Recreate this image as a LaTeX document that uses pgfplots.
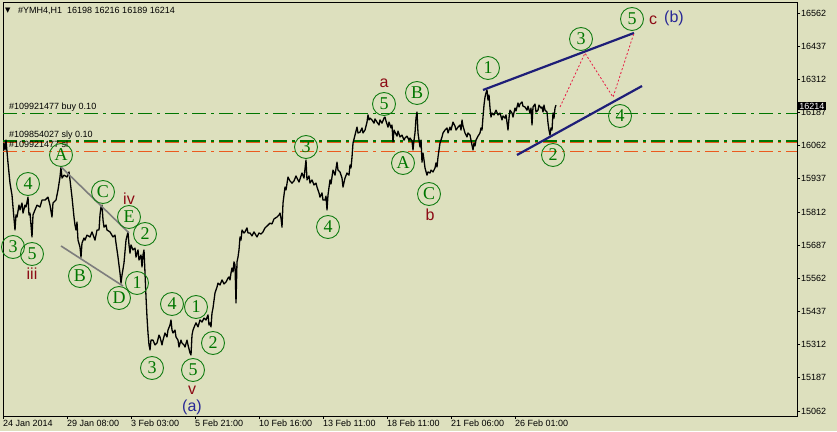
\documentclass[border=0pt]{standalone}
\usepackage{pgfplots}
\pgfplotsset{compat=1.18}
\usepackage{fontspec}
\setmainfont{Liberation Sans}
\newfontfamily\serifnum{Liberation Serif}
\newfontfamily\dejavu{DejaVu Sans}
\definecolor{bg}{RGB}{221,224,190}
\definecolor{wgreen}{RGB}{0,118,0}
\definecolor{ring}{RGB}{20,125,20}
\definecolor{wred}{RGB}{140,10,20}
\definecolor{wnavy}{RGB}{40,40,150}
\definecolor{tline}{RGB}{30,30,120}
\definecolor{orng}{RGB}{235,90,30}
\definecolor{crim}{RGB}{230,30,70}
\definecolor{gline}{RGB}{125,125,125}
\tikzset{
  circ/.style={circle, draw=ring, line width=0.9pt, minimum size=23pt, inner sep=0pt, text=wgreen, font=\serifnum\fontsize{18}{18}\selectfont},
  redl/.style={inner sep=0pt, text=wred, font=\fontsize{16}{16}\selectfont},
  navl/.style={inner sep=0pt, text=wnavy, font=\fontsize{16}{16}\selectfont},
}
\newcommand\cl[3]{\node[circ] at ({(#1-3)*1pt},{(416-#2)*1pt}) {#3};}
\newcommand\rl[3]{\node[redl] at ({(#1-3)*1pt},{(416-#2)*1pt}) {#3};}
\newcommand\nl[3]{\node[navl] at ({(#1-3)*1pt},{(416-#2)*1pt}) {#3};}
\begin{document}
\begin{tikzpicture}
\useasboundingbox[fill=bg] (-3pt,-15pt) rectangle (834pt,416pt);
\begin{axis}[
  at={(0pt,0pt)}, anchor=south west, scale only axis,
  width=794pt, height=413pt,
  xmin=3, xmax=797, ymin=15043, ymax=16600,
  axis line style={line width=1pt, black},
  xtick={3,67,131,195,259,323,387,451,515},
  xticklabels={24 Jan 2014, 29 Jan 08:00, 3 Feb 03:00, 5 Feb 21:00, 10 Feb 16:00, 13 Feb 11:00, 18 Feb 11:00, 21 Feb 06:00, 26 Feb 01:00},
  ytick={15062,15187,15312,15437,15562,15687,15812,15937,16062,16187,16312,16437,16562},
  yticklabels={15062,15187,15312,15437,15562,15687,15812,15937,16062,16187,16312,16437,16562},
  xtick pos=left, ytick pos=right, yticklabel pos=right,
  tick align=outside, major tick length=3pt,
  tick style={black, line width=0.8pt},
  xticklabel style={anchor=north west, xshift=-1pt, inner sep=1pt},
  yticklabel style={anchor=west, inner sep=1pt},
  tick label style={font=\fontsize{9}{9}\selectfont},
]
\addplot[wgreen, line width=0.8pt, dash pattern=on 14pt off 5pt on 3pt off 5pt] coordinates {(3,16184) (797,16184)};
\addplot[orng, line width=0.8pt, dash pattern=on 14pt off 5pt on 3pt off 5pt] coordinates {(3,16039) (797,16039)};
\addplot[orng, line width=0.8pt, dash pattern=on 14pt off 5pt on 3pt off 5pt] coordinates {(3,16076) (797,16076)};
\addplot[wgreen, line width=1.8pt, dash pattern=on 14pt off 5pt on 3pt off 5pt] coordinates {(3,16081) (797,16081)};
\addplot[black, line width=1.3pt, line join=round] coordinates {
(3,16065) (4,16072) (5,16046) (6,16083) (8,15997) (10,15921) (12,15876) (13,15831) (15,15744) (16,15801)
(17,15793) (19,15838) (20,15820) (22,15846) (23,15808) (25,15838) (26,15831) (28,15868) (29,15801) (30,15808)
(31,15763) (32,15718) (33,15801) (35,15820) (37,15838) (40,15831) (42,15857) (45,15857) (48,15868) (50,15838)
(52,15793) (53,15846) (56,15857) (58,15895) (60,15944) (61,15982) (62,15940) (64,15951) (67,15944) (69,15963)
(70,15933) (72,15868) (74,15793) (75,15763) (76,15744) (77,15774) (78,15706) (80,15680) (81,15642) (82,15695)
(84,15714) (85,15706) (87,15725) (90,15718) (92,15737) (95,15706) (97,15744) (99,15744) (100,15801) (101,15831)
(102,15838) (103,15782) (104,15755) (106,15763) (107,15744) (110,15737) (113,15718) (115,15725) (116,15695) (118,15642)
(119,15612) (120,15582) (121,15544) (122,15574) (124,15620) (126,15706) (128,15737) (129,15688) (130,15657) (131,15688)
(133,15669) (135,15676) (136,15642) (138,15669) (139,15631) (141,15650) (142,15605) (143,15650) (144,15669) (145,15582)
(146,15492) (147,15416) (148,15356) (149,15311) (150,15292) (151,15329) (153,15329) (155,15311) (157,15318) (159,15348)
(160,15341) (162,15311) (163,15329) (165,15356) (167,15341) (168,15367) (170,15386) (171,15405) (172,15367) (173,15356)
(175,15367) (176,15341) (178,15329) (179,15303) (181,15329) (182,15318) (184,15311) (185,15303) (187,15329) (188,15311)
(190,15281) (191,15273) (192,15348) (193,15367) (195,15386) (196,15394) (198,15379) (200,15405) (202,15397) (204,15412)
(206,15405) (208,15424) (209,15386) (210,15394) (211,15379) (212,15431) (213,15450) (215,15507) (217,15529) (218,15544)
(220,15537) (222,15556) (224,15541) (226,15548) (228,15563) (229,15567) (230,15556) (231,15582) (232,15601) (233,15586)
(234,15624) (235,15612) (236,15469) (237,15624) (238,15642) (239,15669) (240,15718) (241,15706) (242,15744) (244,15733)
(245,15737) (247,15752) (248,15733) (250,15733) (252,15722) (254,15737) (257,15718) (259,15733) (261,15729) (263,15737)
(265,15752) (267,15759) (270,15770) (272,15767) (274,15786) (277,15793) (279,15801) (280,15808) (281,15789) (282,15755)
(283,15846) (285,15906) (286,15895) (288,15944) (290,15929) (292,15921) (294,15929) (296,15948) (297,15940) (299,15925)
(301,15948) (302,15959) (304,15940) (306,16008) (307,15933) (309,15948) (310,15921) (312,15933) (314,15914) (316,15921)
(317,15906) (319,15884) (320,15868) (322,15884) (323,15857) (325,15857) (326,15872) (327,15820) (328,15876) (330,15933)
(331,15918) (333,15970) (335,15951) (337,16000) (338,15970) (340,15963) (342,15940) (343,15906) (345,15940) (347,15959)
(349,15951) (350,15989) (351,15978) (352,16019) (353,16072) (355,16102) (357,16132) (358,16110) (360,16113) (362,16129)
(363,16110) (365,16121) (367,16151) (368,16178) (369,16159) (370,16166) (372,16159) (374,16147) (375,16163) (377,16151)
(379,16140) (380,16159) (382,16147) (384,16166) (385,16170) (386,16155) (388,16132) (389,16151) (391,16129) (392,16140)
(393,16076) (394,16121) (395,16113) (397,16098) (398,16117) (400,16095) (402,16102) (404,16083) (405,16091) (407,16098)
(409,16083) (410,16091) (412,16080) (413,16046) (414,16083) (415,16110) (416,16166) (417,16189) (418,16110) (419,16083)
(420,16057) (421,16083) (422,16000) (423,16034) (424,16008) (425,15978) (427,15951) (428,15963) (430,15959) (431,15970)
(433,15963) (435,15978) (436,15997) (437,15982) (438,16019) (439,16046) (440,16072) (442,16095) (443,16110) (445,16121)
(447,16129) (448,16110) (450,16132) (451,16121) (453,16151) (455,16136) (456,16121) (458,16132) (460,16140) (461,16121)
(462,16159) (463,16136) (465,16110) (467,16095) (468,16110) (470,16102) (471,16083) (473,16046) (474,16072) (475,16061)
(476,16083) (478,16098) (480,16110) (481,16129) (482,16121) (483,16170) (484,16215) (485,16245) (486,16261) (487,16272)
(488,16234) (489,16253) (490,16204) (491,16170) (492,16185) (494,16178) (496,16196) (498,16178) (500,16185) (502,16159)
(503,16174) (505,16166) (506,16178) (508,16121) (509,16166) (510,16196) (512,16185) (513,16170) (515,16204) (516,16193)
(518,16223) (519,16208) (520,16219) (522,16227) (523,16211) (525,16208) (527,16196) (528,16211) (530,16185) (531,16204)
(532,16140) (533,16208) (535,16219) (536,16189) (538,16196) (539,16215) (541,16204) (542,16208) (543,16189) (544,16215)
(545,16196) (547,16189) (548,16147) (549,16121) (550,16102) (551,16129) (552,16121) (553,16185) (554,16166) (555,16204)
(556,16215)
};
\addplot[gline, line width=1.6pt] coordinates {(61,15982) (129,15733)};
\addplot[gline, line width=1.6pt] coordinates {(61,15684) (123,15533)};
\addplot[tline, line width=2.2pt] coordinates {(483,16272) (634,16487)};
\addplot[tline, line width=2.2pt] coordinates {(517,16027) (642,16287)};
\addplot[crim, line width=0.8pt, dash pattern=on 2pt off 2pt] coordinates {(560,16208) (585,16411) (613,16245) (634,16487)};
\end{axis}
% title and order labels
\node[anchor=west, inner sep=0pt] at ({(5-3)*1pt},{(416-11)*1pt}) {\dejavu\fontsize{7}{7}\selectfont ▼};
\node[anchor=west, inner sep=0pt, font=\fontsize{9}{9}\selectfont] at ({(18-3)*1pt},{(416-11)*1pt}) {\#YMH4,H1\ \ 16198 16216 16189 16214};
\node[anchor=base west, inner sep=0pt, font=\fontsize{9}{9}\selectfont] at ({(9-3)*1pt},{(416-110)*1pt}) {\#109921477 buy 0.10};
\node[anchor=base west, inner sep=0pt, font=\fontsize{9}{9}\selectfont] at ({(9-3)*1pt},{(416-138)*1pt}) {\#109854027 sly 0.10};
\node[anchor=base west, inner sep=0pt, font=\fontsize{9}{9}\selectfont] at ({(9-3)*1pt},{(416-148)*1pt}) {\#109921477 sl};
\node[anchor=west, fill=black, text=white, inner sep=1.2pt, font=\fontsize{9}{9}\selectfont] at ({(798-3)*1pt},{(416-106)*1pt}) {16214};
% wave labels
\cl{13}{247}{3} \cl{32}{254}{5} \cl{28}{184}{4} \cl{61}{155}{A} \cl{103}{192}{C}
\cl{129}{217}{E} \cl{145}{234}{2} \cl{80}{276}{B} \cl{119}{298}{D} \cl{137}{283}{1}
\cl{152}{368}{3} \cl{172}{304}{4} \cl{196}{307}{1} \cl{213}{343}{2} \cl{193}{370}{5}
\cl{306}{147}{3} \cl{328}{227}{4} \cl{384}{104}{5} \cl{417}{93}{B} \cl{403}{163}{A}
\cl{429}{194}{C} \cl{488}{68}{1} \cl{553}{155}{2} \cl{581}{39}{3} \cl{632}{19}{5} \cl{620}{116}{4}
\rl{32}{274}{iii} \rl{129}{199}{iv} \rl{192}{390}{v} \rl{384}{83}{a} \rl{430}{215}{b} \rl{653}{20}{c}
\nl{192}{407}{(a)} \nl{674}{18}{(b)}
\end{tikzpicture}
\end{document}
